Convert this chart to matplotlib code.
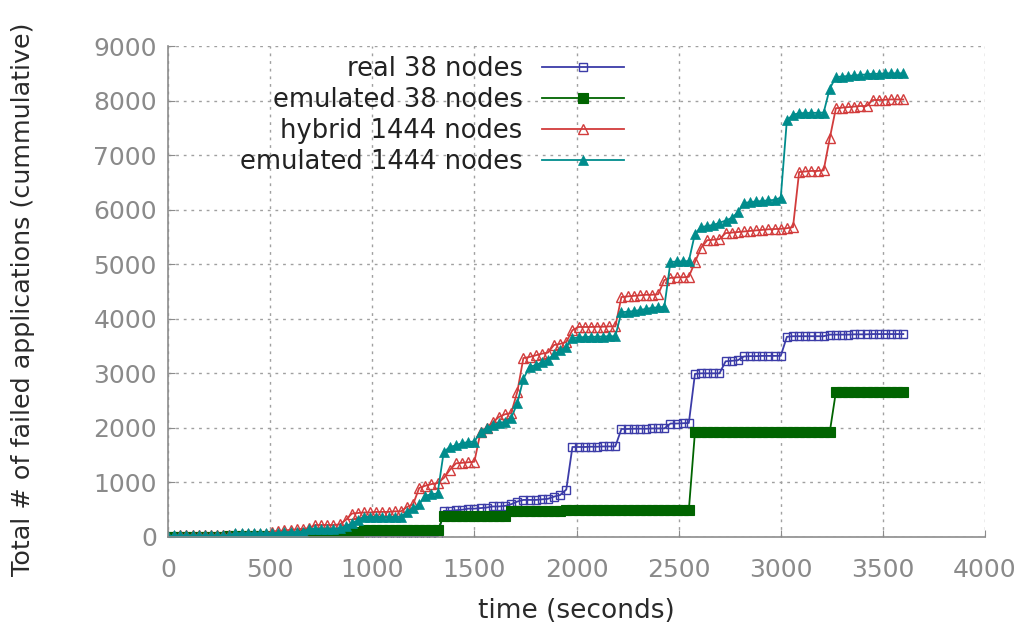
import numpy as np
import matplotlib
matplotlib.use("Agg")
import matplotlib.pyplot as plt

# sample times (s) and cumulative failed applications
time_s = np.arange(0, 3601, 30)

real_38 = [
    0, 0, 0, 0, 0, 0, 0, 0, 0, 0,
    0, 0, 0, 0, 0, 0, 0, 0, 0, 0,
    0, 0, 0, 0, 0, 0, 0, 0, 0, 0,
    0, 0, 0, 0, 0, 0, 0, 0, 0, 0,
    0, 0, 0, 0, 0, 480, 480, 490, 500, 520,
    520, 530, 540, 560, 560, 570, 600, 650, 680, 680,
    680, 690, 700, 740, 770, 870, 1650, 1650, 1650, 1655,
    1655, 1660, 1660, 1660, 1980, 1980, 1985, 1985, 1985, 1990,
    1990, 1990, 2080, 2080, 2085, 2090, 2990, 3000, 3000, 3000,
    3000, 3220, 3230, 3240, 3310, 3315, 3315, 3320, 3320, 3320,
    3320, 3670, 3680, 3680, 3680, 3680, 3680, 3680, 3710, 3710,
    3710, 3710, 3715, 3715, 3715, 3720, 3720, 3720, 3720, 3720,
    3720,
]
emulated_38 = [
    0, 0, 0, 0, 0, 0, 0, 0, 0, 0,
    10, 10, 10, 10, 10, 10, 10, 25, 25, 25,
    25, 25, 50, 50, 50, 50, 50, 50, 50, 90,
    100, 100, 130, 130, 130, 130, 130, 130, 130, 130,
    130, 130, 130, 130, 130, 380, 380, 380, 380, 380,
    380, 380, 380, 380, 380, 380, 470, 470, 470, 470,
    470, 470, 470, 470, 470, 495, 495, 495, 495, 495,
    495, 495, 495, 495, 495, 495, 495, 495, 495, 495,
    495, 495, 495, 495, 495, 495, 1925, 1925, 1925, 1925,
    1925, 1925, 1925, 1925, 1925, 1925, 1925, 1925, 1925, 1925,
    1925, 1925, 1925, 1925, 1925, 1925, 1925, 1925, 1925, 2660,
    2660, 2660, 2660, 2660, 2660, 2660, 2660, 2660, 2660, 2660,
    2660,
]
hybrid_1444 = [
    0, 20, 30, 30, 30, 30, 30, 30, 30, 30,
    40, 60, 60, 60, 60, 60, 60, 100, 110, 120,
    130, 140, 150, 160, 220, 220, 220, 220, 230, 310,
    430, 440, 450, 450, 460, 460, 460, 470, 470, 550,
    600, 900, 940, 970, 990, 1080, 1230, 1350, 1360, 1370,
    1380, 1920, 2000, 2100, 2200, 2250, 2270, 2660, 3280, 3300,
    3330, 3360, 3380, 3520, 3540, 3575, 3790, 3850, 3850, 3850,
    3855, 3855, 3860, 3860, 4400, 4410, 4420, 4430, 4440, 4440,
    4450, 4710, 4750, 4760, 4760, 4770, 5040, 5300, 5440, 5450,
    5460, 5570, 5580, 5590, 5600, 5610, 5620, 5630, 5640, 5645,
    5650, 5660, 5680, 6690, 6700, 6710, 6710, 6720, 7310, 7860,
    7870, 7880, 7890, 7900, 7900, 8010, 8010, 8015, 8020, 8020,
    8020,
]
emulated_1444 = [
    10, 30, 30, 30, 30, 30, 30, 30, 30, 30,
    30, 70, 70, 70, 70, 70, 70, 70, 80, 90,
    90, 90, 100, 150, 150, 150, 150, 150, 160, 200,
    250, 310, 370, 370, 370, 370, 370, 370, 370, 460,
    530, 600, 760, 780, 800, 1560, 1650, 1680, 1720, 1740,
    1750, 1920, 2000, 2050, 2090, 2110, 2180, 2450, 2900, 3120,
    3150, 3200, 3250, 3350, 3420, 3480, 3640, 3660, 3665, 3670,
    3670, 3675, 3680, 3680, 4120, 4130, 4140, 4160, 4180, 4200,
    4210, 4220, 5040, 5050, 5050, 5060, 5560, 5680, 5700, 5720,
    5760, 5800, 5850, 5950, 6120, 6140, 6150, 6160, 6170, 6180,
    6220, 7640, 7740, 7770, 7770, 7775, 7775, 7780, 8220, 8430,
    8440, 8450, 8460, 8470, 8480, 8490, 8490, 8500, 8500, 8500,
    8500,
]

labels = ["real 38 nodes", "emulated 38 nodes", "hybrid 1444 nodes", "emulated 1444 nodes"]
xticks = [0, 500, 1000, 1500, 2000, 2500, 3000, 3500, 4000]
yticks = [0, 1000, 2000, 3000, 4000, 5000, 6000, 7000, 8000, 9000]

BORDER = "#8c8c8c"
GRID = "#a0a0a0"
TICKTXT = "#8a8a8a"

plt.rcParams["font.family"] = ["DejaVu Sans"]

fig = plt.figure(figsize=(10.21, 6.30), dpi=100)
ax = fig.add_axes([168 / 1021, 93 / 630, 817 / 1021, 491 / 630])

ax.plot(time_s, real_38, color="#3c3ca8", lw=1.3, marker="s", ms=5.5,
        mfc="none", mew=1.0, label=labels[0])
ax.plot(time_s, emulated_38, color="#006400", lw=1.3, marker="s", ms=6.5,
        mfc="#006400", mew=0.8, label=labels[1])
ax.plot(time_s, hybrid_1444, color="#d23c3c", lw=1.3, marker="^", ms=7,
        mfc="none", mew=1.0, label=labels[2])
ax.plot(time_s, emulated_1444, color="#008c8c", lw=1.3, marker="^", ms=7,
        mfc="#008c8c", mew=0.5, label=labels[3])

ax.set_xlim(0, 4000)
ax.set_ylim(0, 9000)
ax.set_xticks(xticks)
ax.set_yticks(yticks)
ax.grid(True, color=GRID, linestyle=(0, (2, 3.5)), lw=1.0)

for side in ("top", "right"):
    ax.spines[side].set_visible(False)
for side in ("left", "bottom"):
    ax.spines[side].set_color(BORDER)
    ax.spines[side].set_linewidth(1.2)
ax.tick_params(direction="in", length=5, color=BORDER, labelcolor=TICKTXT,
               labelsize=18)
ax.tick_params(axis="x", pad=15)
ax.tick_params(axis="y", pad=8)

ax.set_xlabel("time (seconds)", fontsize=19, color="#2a2a2a", labelpad=12)
ax.set_ylabel("Total # of failed applications (cummulative)", fontsize=18.3,
              color="#2a2a2a", labelpad=42)
ax.yaxis.label.set_y(0.485)

leg = ax.legend(loc="upper right", bbox_to_anchor=(624 / 1021, 1 - 56 / 630),
                bbox_transform=fig.transFigure, frameon=False, markerfirst=False,
                fontsize=18.5, handlelength=3.2, handletextpad=0.75,
                labelspacing=0.2, borderpad=0, borderaxespad=0)
for txt in leg.get_texts():
    txt.set_color("#222222")

fig.savefig("out.png", dpi=100)
